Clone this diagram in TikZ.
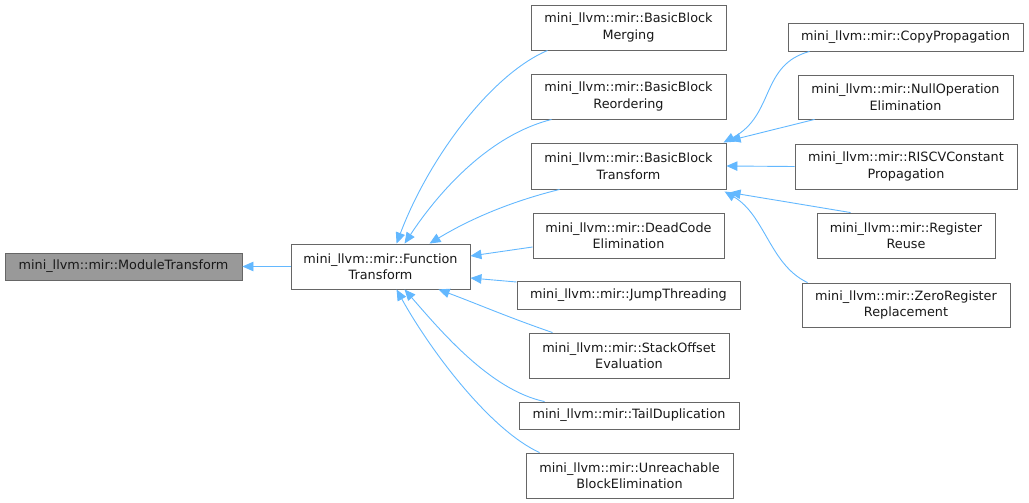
\documentclass[tikz,border=0pt]{standalone}
\usepackage{fontspec}
\setmainfont{DejaVu Sans}
\usetikzlibrary{arrows.meta}
\definecolor{edgeblue}{HTML}{63B8FF}
\definecolor{boxborder}{HTML}{666666}
\definecolor{boxgray}{HTML}{999999}
\begin{document}
\begin{tikzpicture}[x=1pt,y=-1pt,
  cls/.style={draw=boxborder,line width=0.9pt,fill=white,inner sep=0pt,align=center,
    font=\fontsize{12.8}{16.5}\selectfont,text=black!90},
  cur/.style={cls,fill=boxgray},
  inh/.style={draw=edgeblue,line width=0.9pt,-{Triangle[length=11pt,width=9.5pt,fill=edgeblue]}}]
\useasboundingbox (0,0) rectangle (1029,503);
% nodes
\node[cur,minimum width=237,minimum height=27] (mt) at (123.5,266.5) {mini\_llvm::mir::ModuleTransform};
\node[cls,minimum width=179,minimum height=45] (ft) at (380.5,266.5) {mini\_llvm::mir::Function\\Transform};
\node[cls,minimum width=195,minimum height=45] (bbm) at (628.5,27.5) {mini\_llvm::mir::BasicBlock\\Merging};
\node[cls,minimum width=195,minimum height=45] (bbr) at (628.5,96.5) {mini\_llvm::mir::BasicBlock\\Reordering};
\node[cls,minimum width=195,minimum height=46] (bbt) at (628.5,166) {mini\_llvm::mir::BasicBlock\\Transform};
\node[cls,minimum width=191,minimum height=45] (dce) at (628.5,235.5) {mini\_llvm::mir::DeadCode\\Elimination};
\node[cls,minimum width=223,minimum height=28] (jt) at (628.5,295) {mini\_llvm::mir::JumpThreading};
\node[cls,minimum width=200,minimum height=45] (so) at (629,355.5) {mini\_llvm::mir::StackOffset\\Evaluation};
\node[cls,minimum width=220,minimum height=27] (td) at (629,415.5) {mini\_llvm::mir::TailDuplication};
\node[cls,minimum width=207,minimum height=45] (ue) at (629.5,475.5) {mini\_llvm::mir::Unreachable\\BlockElimination};
\node[cls,minimum width=235,minimum height=28] (cp) at (905.5,37) {mini\_llvm::mir::CopyPropagation};
\node[cls,minimum width=215,minimum height=44] (no) at (905.5,97) {mini\_llvm::mir::NullOperation\\Elimination};
\node[cls,minimum width=222,minimum height=45] (rc) at (906,166.5) {mini\_llvm::mir::RISCVConstant\\Propagation};
\node[cls,minimum width=178,minimum height=45] (rr) at (906,235.5) {mini\_llvm::mir::Register\\Reuse};
\node[cls,minimum width=208,minimum height=44] (zr) at (906,305) {mini\_llvm::mir::ZeroRegister\\Replacement};
% edges
\draw[inh] (ft.west) -- (mt.east);
\draw[inh] ([xshift=17]bbm.south west) .. controls (490,75) and (428,160) .. ([xshift=106]ft.north west);
\draw[inh] ([xshift=21]bbr.south west) .. controls (490,135) and (440,190) .. ([xshift=114]ft.north west);
\draw[inh] ([xshift=29]bbt.south west) .. controls (505,203) and (465,222) .. ([xshift=139]ft.north west);
\draw[inh] ([yshift=-11.5]dce.west) -- ([yshift=10.5]ft.east);
\draw[inh] ([yshift=13]jt.west) -- ([yshift=-11.5]ft.east);
\draw[inh] ([xshift=24]so.north west) .. controls (510,318) and (475,303) .. ([xshift=148]ft.south west);
\draw[inh] ([xshift=26]td.north west) .. controls (490,390) and (440,330) .. ([xshift=114]ft.south west);
\draw[inh] ([xshift=14]ue.north west) .. controls (490,430) and (430,350) .. ([xshift=106]ft.south west);
\draw[inh] ([xshift=22]cp.south west) .. controls (760,65) and (775,115) .. ([xshift=193]bbt.north west);
\draw[inh] ([xshift=17]no.south west) -- ([xshift=199,yshift=2]bbt.north west);
\draw[inh] (rc.west) -- (bbt.east);
\draw[inh] ([xshift=34]rr.north west) -- ([xshift=199,yshift=-3]bbt.south west);
\draw[inh] ([xshift=6]zr.north west) .. controls (770,265) and (765,215) .. ([xshift=194,yshift=-2]bbt.south west);
\end{tikzpicture}
\end{document}
